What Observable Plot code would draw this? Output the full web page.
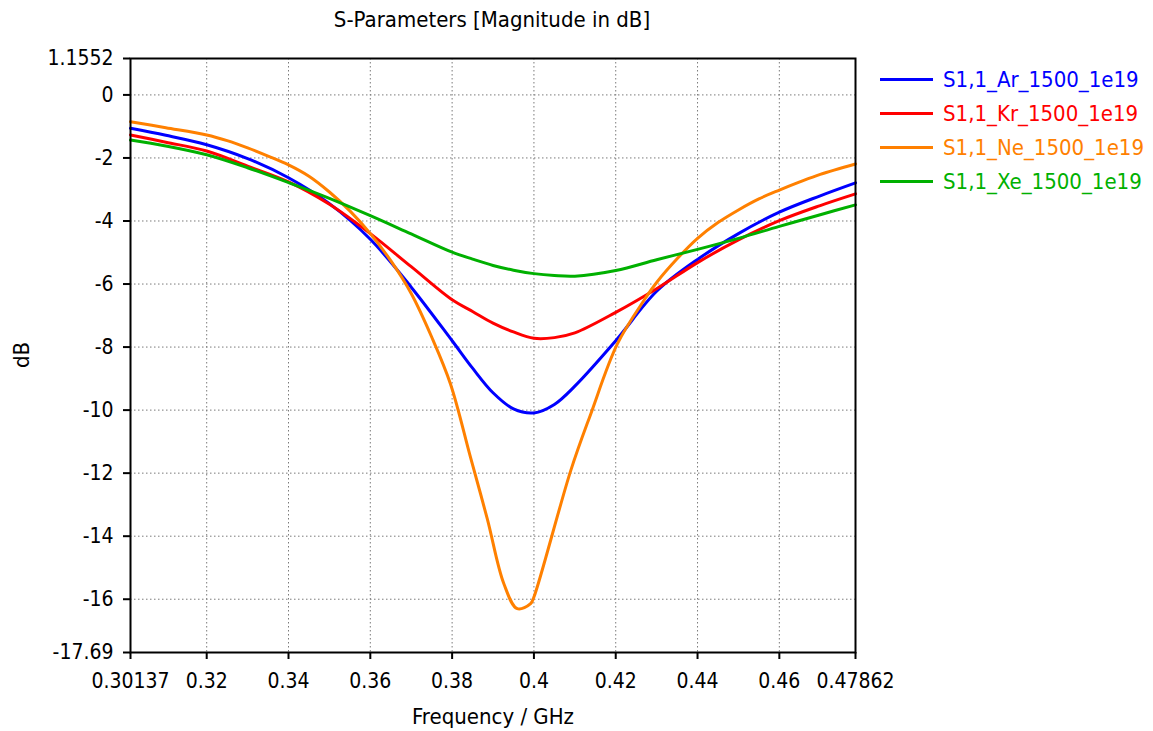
<!DOCTYPE html>
<html>
<head>
<meta charset="utf-8">
<script src="https://cdn.jsdelivr.net/npm/d3@7"></script>
<script src="https://cdn.jsdelivr.net/npm/@observablehq/plot@0.6"></script>
<style>
  html, body { margin: 0; padding: 0; background: #fff; }
  #wrap { position: relative; width: 1153px; height: 731px; font-family: "DejaVu Sans Condensed", "DejaVu Sans", sans-serif; font-stretch: condensed; color: #000; }
  .lbl { position: absolute; font-size: 22px; white-space: nowrap; line-height: 1; }
  #title { left: 492px; top: 9px; transform: translateX(-50%); }
  #xlab { left: 493px; top: 706px; transform: translateX(-50%); }
  #ylab { left: 22px; top: 355px; transform: translate(-50%, -50%) rotate(-90deg); }
  #legend { position: absolute; left: 880px; top: 62px; }
  .item { display: flex; align-items: center; height: 34.2px; font-size: 22px; }
  .swatch { width: 53px; height: 3px; margin-right: 10px; }
</style>
</head>
<body>
<div id="wrap">
  <div id="chart"></div>
  <div class="lbl" id="title">S-Parameters [Magnitude in dB]</div>
  <div class="lbl" id="xlab">Frequency / GHz</div>
  <div class="lbl" id="ylab">dB</div>
  <div id="legend"></div>
</div>
<script>
// Frequency samples (GHz) for Ar, Kr, Xe
const freq = [0.30137, 0.31, 0.32, 0.33, 0.34, 0.35, 0.36, 0.37, 0.38, 0.385, 0.39, 0.395, 0.40, 0.405, 0.41, 0.42, 0.43, 0.44, 0.45, 0.46, 0.47, 0.47862];
const ar = [-1.06, -1.28, -1.58, -2.02, -2.63, -3.45, -4.58, -6.10, -7.80, -8.67, -9.45, -9.96, -10.09, -9.82, -9.24, -7.80, -6.23, -5.22, -4.40, -3.72, -3.20, -2.79];
const kr = [-1.27, -1.50, -1.78, -2.26, -2.76, -3.47, -4.40, -5.45, -6.50, -6.87, -7.24, -7.52, -7.72, -7.70, -7.55, -6.90, -6.15, -5.32, -4.60, -3.99, -3.51, -3.14];
const xe = [-1.43, -1.62, -1.90, -2.31, -2.78, -3.28, -3.83, -4.41, -4.99, -5.21, -5.41, -5.56, -5.67, -5.73, -5.75, -5.57, -5.23, -4.90, -4.55, -4.17, -3.80, -3.49];
// Ne has its own (denser) samples
const neFreq = [0.30137, 0.31, 0.32, 0.325, 0.33, 0.335, 0.34, 0.345, 0.35, 0.355, 0.36, 0.365, 0.37, 0.375, 0.3796, 0.3845, 0.3886, 0.39265, 0.39593, 0.39919, 0.40, 0.409, 0.4139, 0.4204, 0.427, 0.43, 0.435, 0.44, 0.445, 0.45, 0.455, 0.46, 0.465, 0.47, 0.47862];
const ne = [-0.85, -1.04, -1.27, -1.45, -1.68, -1.94, -2.22, -2.58, -3.08, -3.68, -4.40, -5.26, -6.30, -7.68, -9.17, -11.50, -13.45, -15.51, -16.30, -16.14, -15.93, -11.92, -10.12, -7.90, -6.50, -5.95, -5.20, -4.55, -4.05, -3.65, -3.30, -3.02, -2.76, -2.52, -2.19];

const seriesNames = ["S1,1_Ar_1500_1e19", "S1,1_Kr_1500_1e19", "S1,1_Ne_1500_1e19", "S1,1_Xe_1500_1e19"];
const seriesColors = ["#0000ff", "#ff0000", "#ff8000", "#00b000"];

const xTicks = [0.30137, 0.32, 0.34, 0.36, 0.38, 0.4, 0.42, 0.44, 0.46, 0.47862];
const xGrid = [0.32, 0.34, 0.36, 0.38, 0.4, 0.42, 0.44, 0.46];
const yTicks = [1.1552, 0, -2, -4, -6, -8, -10, -12, -14, -16, -17.69];
const yGrid = [0, -2, -4, -6, -8, -10, -12, -14, -16];

const rows = [];
freq.forEach((f, i) => {
  rows.push({f, db: ar[i], s: seriesNames[0]});
  rows.push({f, db: kr[i], s: seriesNames[1]});
  rows.push({f, db: xe[i], s: seriesNames[3]});
});
neFreq.forEach((f, i) => rows.push({f, db: ne[i], s: seriesNames[2]}));

const gridStyle = {stroke: "#7a7a7a", strokeOpacity: 1, strokeWidth: 1, strokeDasharray: "1.5,2.5"};

const chart = Plot.plot({
  width: 1153,
  height: 731,
  marginLeft: 130,
  marginRight: 298,
  marginTop: 58,
  marginBottom: 79,
  style: {fontFamily: "'DejaVu Sans Condensed', 'DejaVu Sans', sans-serif", fontStretch: "condensed", fontSize: "21px", color: "#000", background: "#fff"},
  x: {type: "linear", domain: [0.30137, 0.47862]},
  y: {type: "linear", domain: [-17.69, 1.1552]},
  color: {domain: seriesNames, range: seriesColors},
  marks: [
    Plot.gridX(xGrid, gridStyle),
    Plot.gridY(yGrid, gridStyle),
    ...seriesNames.map(name => Plot.line(rows.filter(d => d.s === name), {
      x: "f", y: "db", stroke: "s", strokeWidth: 3, curve: "catmull-rom"
    })),
    Plot.frame({stroke: "#000", strokeWidth: 2}),
    Plot.axisX(xTicks, {tickSize: 7, tickPadding: 14, strokeWidth: 2, fontSize: 21, tickFormat: d => String(d), label: null}),
    Plot.axisY(yTicks, {tickSize: 7, tickPadding: 10, strokeWidth: 2, fontSize: 21, tickFormat: d => String(d), label: null})
  ]
});
document.getElementById("chart").appendChild(chart);

const legend = document.getElementById("legend");
seriesNames.forEach((name, i) => {
  const item = document.createElement("div");
  item.className = "item";
  const sw = document.createElement("div");
  sw.className = "swatch";
  sw.style.background = seriesColors[i];
  const tx = document.createElement("span");
  tx.textContent = name;
  tx.style.color = seriesColors[i];
  item.appendChild(sw);
  item.appendChild(tx);
  legend.appendChild(item);
});
</script>
</body>
</html>
